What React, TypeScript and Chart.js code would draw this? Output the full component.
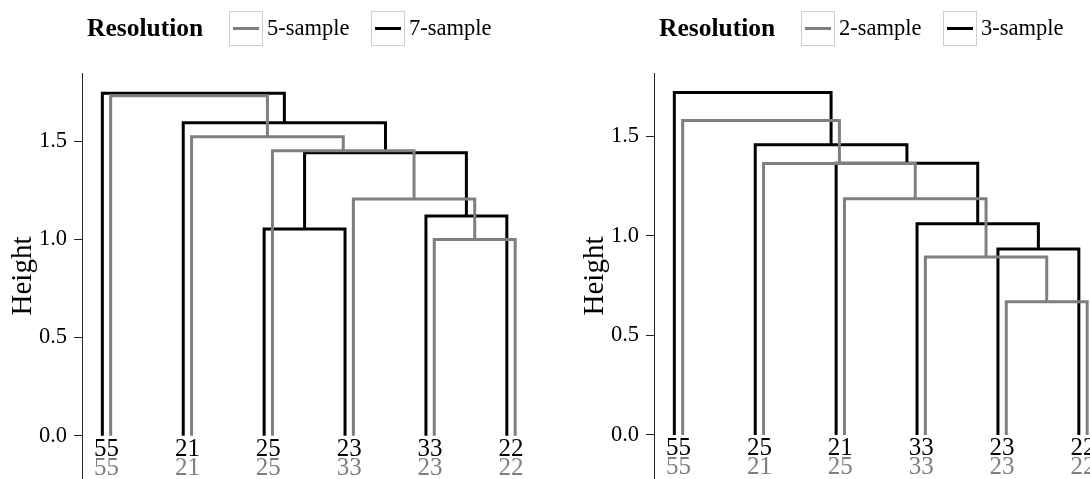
import React, { useEffect, useRef } from "react";
import { Chart, registerables } from "chart.js";

Chart.register(...registerables);

// ---------- data ----------
const yTickValues = [0, 0.5, 1.0, 1.5];
const legendTitle = "Resolution";
const yTitle = "Height";

// Left panel: 5-sample (grey) vs 7-sample (black)
const leftGreyName = "5-sample";
const leftGreyLeaves = ["55", "21", "25", "33", "23", "22"];
const leftGreyMerges = [[-5, -6], [-4, 1], [-3, 2], [-2, 3], [-1, 4]];
const leftGreyHeights = [1.0, 1.206, 1.452, 1.523, 1.732];

const leftBlackName = "7-sample";
const leftBlackLeaves = ["55", "21", "25", "23", "33", "22"];
const leftBlackMerges = [[-3, -4], [-5, -6], [1, 2], [-2, 3], [-1, 4]];
const leftBlackHeights = [1.053, 1.119, 1.442, 1.595, 1.745];

// Right panel: 2-sample (grey) vs 3-sample (black)
const rightGreyName = "2-sample";
const rightGreyLeaves = ["55", "21", "25", "33", "23", "22"];
const rightGreyMerges = [[-5, -6], [-4, 1], [-3, 2], [-2, 3], [-1, 4]];
const rightGreyHeights = [0.67, 0.894, 1.187, 1.364, 1.58];

const rightBlackName = "3-sample";
const rightBlackLeaves = ["55", "25", "21", "33", "23", "22"];
const rightBlackMerges = [[-5, -6], [-4, 1], [-3, 2], [-2, 3], [-1, 4]];
const rightBlackHeights = [0.934, 1.061, 1.366, 1.458, 1.721];

// ---------- styling ----------
const GREY = "#7f7f7f";
const BLACK = "#000000";
const FONT = '"Liberation Serif", "DejaVu Serif", serif';
const LEAF_OFFSET = 0.0515;

type Pt = { x: number; y: number | null };

function treeSegments(merges: number[][], heights: number[], offset: number): Pt[] {
  const mx: number[] = [];
  const pts: Pt[] = [];
  const pos = (ref: number) =>
    ref < 0 ? { x: -ref - 1 + offset, h: 0 } : { x: mx[ref - 1], h: heights[ref - 1] };
  merges.forEach(([a, b], k) => {
    const A = pos(a);
    const B = pos(b);
    const H = heights[k];
    pts.push({ x: A.x, y: A.h }, { x: A.x, y: H }, { x: B.x, y: H }, { x: B.x, y: B.h }, { x: B.x, y: null });
    mx.push((A.x + B.x) / 2);
  });
  return pts;
}

type PanelProps = {
  greyName: string;
  greyLeaves: string[];
  greyMerges: number[][];
  greyHeights: number[];
  blackName: string;
  blackLeaves: string[];
  blackMerges: number[][];
  blackHeights: number[];
  yMin: number;
  yMax: number;
  left: number;
};

function Panel(p: PanelProps) {
  const ref = useRef<HTMLCanvasElement | null>(null);
  useEffect(() => {
    if (!ref.current) return;
    const leafPlugin = {
      id: "leafLabels",
      afterDatasetsDraw(chart: any) {
        const ctx = chart.ctx;
        const xs = chart.scales.x;
        const ys = chart.scales.y;
        const y0 = ys.getPixelForValue(0);
        ctx.save();
        ctx.font = `25px ${FONT}`;
        ctx.textAlign = "center";
        ctx.textBaseline = "alphabetic";
        p.blackLeaves.forEach((l, i) => {
          ctx.fillStyle = BLACK;
          ctx.fillText(l, xs.getPixelForValue(i), y0 + 20.5);
        });
        p.greyLeaves.forEach((l, i) => {
          ctx.fillStyle = GREY;
          ctx.fillText(l, xs.getPixelForValue(i), y0 + 39.5);
        });
        ctx.restore();
      },
    };
    const legendPlugin = {
      id: "customLegend",
      afterDraw(chart: any) {
        const ctx = chart.ctx;
        ctx.save();
        ctx.textBaseline = "middle";
        ctx.textAlign = "left";
        ctx.fillStyle = "#000";
        ctx.font = `bold 25.5px ${FONT}`;
        ctx.fillText(legendTitle, 87, 29);
        const items = [
          { name: p.greyName, color: GREY, bx: 229, tx: 267 },
          { name: p.blackName, color: BLACK, bx: 371, tx: 409 },
        ];
        items.forEach((it) => {
          ctx.strokeStyle = "#cfcfcf";
          ctx.lineWidth = 1;
          ctx.strokeRect(it.bx + 0.5, 11.5, 33, 34);
          ctx.strokeStyle = it.color;
          ctx.lineWidth = 3;
          ctx.beginPath();
          ctx.moveTo(it.bx + 4, 28.5);
          ctx.lineTo(it.bx + 30, 28.5);
          ctx.stroke();
          ctx.fillStyle = "#000";
          ctx.font = `22.5px ${FONT}`;
          ctx.fillText(it.name, it.tx, 29);
        });
        ctx.restore();
      },
    };
    const chart = new Chart(ref.current, {
      type: "line",
      data: {
        datasets: [
          {
            label: p.greyName,
            data: treeSegments(p.greyMerges, p.greyHeights, LEAF_OFFSET) as any,
            borderColor: GREY,
            borderWidth: 3,
            pointRadius: 0,
            spanGaps: false,
            tension: 0,
            borderJoinStyle: "miter",
            borderCapStyle: "butt",
          },
          {
            label: p.blackName,
            data: treeSegments(p.blackMerges, p.blackHeights, -LEAF_OFFSET) as any,
            borderColor: BLACK,
            borderWidth: 3,
            pointRadius: 0,
            spanGaps: false,
            tension: 0,
            borderJoinStyle: "miter",
            borderCapStyle: "butt",
          },
        ],
      },
      options: {
        animation: false,
        responsive: false,
        devicePixelRatio: 1,
        layout: { padding: { top: 73, left: 0, right: 0, bottom: 0 } },
        plugins: { legend: { display: false }, tooltip: { enabled: false } },
        scales: {
          x: { type: "linear", display: false, min: -0.3028, max: 5.7416 },
          y: {
            type: "linear",
            min: p.yMin,
            max: p.yMax,
            afterBuildTicks: (s: any) => {
              s.ticks = yTickValues.map((v) => ({ value: v }));
            },
            afterFit: (s: any) => {
              s.width = 82;
              s.paddingTop = 0;
              s.paddingBottom = 0;
            },
            ticks: {
              color: "#000",
              padding: 7,
              font: { family: FONT, size: 22.5 },
              callback: (v: any) => Number(v).toFixed(1),
            },
            grid: {
              display: true,
              drawOnChartArea: false,
              drawTicks: true,
              tickLength: 8,
              color: "#222",
              lineWidth: 1,
            },
            border: { display: true, color: "#222", width: 1 },
            title: {
              display: true,
              text: yTitle,
              color: "#000",
              font: { family: FONT, size: 29 },
              padding: { top: 6, bottom: 0 },
            },
          },
        },
      },
      plugins: [leafPlugin, legendPlugin],
    });
    return () => chart.destroy();
  }, []);
  return (
    <canvas
      ref={ref}
      width={571}
      height={479}
      style={{ position: "absolute", left: p.left, top: 0, width: 571, height: 479 }}
    />
  );
}

export default function App() {
  return (
    <div
      style={{
        position: "fixed",
        left: 0,
        top: 0,
        width: 1090,
        height: 479,
        overflow: "hidden",
        background: "#fff",
      }}
    >
      <Panel
        greyName={leftGreyName}
        greyLeaves={leftGreyLeaves}
        greyMerges={leftGreyMerges}
        greyHeights={leftGreyHeights}
        blackName={leftBlackName}
        blackLeaves={leftBlackLeaves}
        blackMerges={leftBlackMerges}
        blackHeights={leftBlackHeights}
        yMin={-0.2206}
        yMax={1.848}
        left={0}
      />
      <Panel
        greyName={rightGreyName}
        greyLeaves={rightGreyLeaves}
        greyMerges={rightGreyMerges}
        greyHeights={rightGreyHeights}
        blackName={rightBlackName}
        blackLeaves={rightBlackLeaves}
        blackMerges={rightBlackMerges}
        blackHeights={rightBlackHeights}
        yMin={-0.2213}
        yMax={1.819}
        left={572}
      />
    </div>
  );
}
